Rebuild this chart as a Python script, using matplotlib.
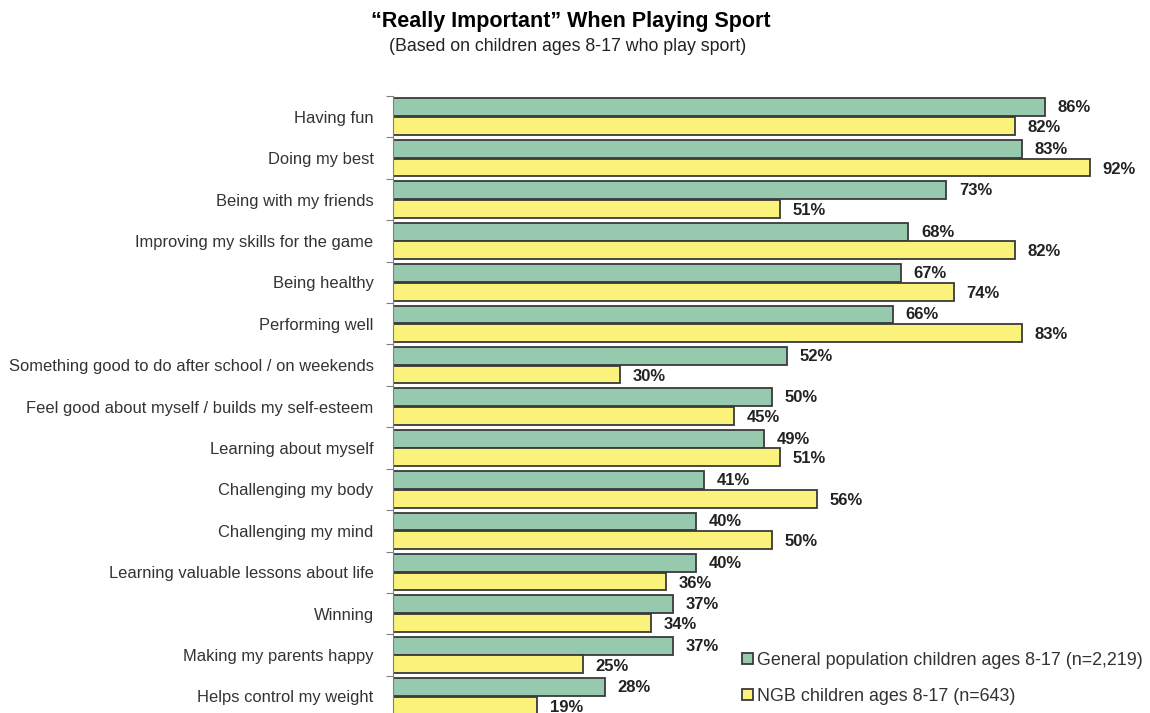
import matplotlib
matplotlib.use('Agg')
from matplotlib import pyplot as plt
import numpy as np

categories = [
    'Having fun',
    'Doing my best',
    'Being with my friends',
    'Improving my skills for the game',
    'Being healthy',
    'Performing well',
    'Something good to do after school / on weekends',
    'Feel good about myself / builds my self-esteem',
    'Learning about myself',
    'Challenging my body',
    'Challenging my mind',
    'Learning valuable lessons about life',
    'Winning',
    'Making my parents happy',
    'Helps control my weight',
]
general = [86, 83, 73, 68, 67, 66, 52, 50, 49, 41, 40, 40, 37, 37, 28]
ngb = [82, 92, 51, 82, 74, 83, 30, 45, 51, 56, 50, 36, 34, 25, 19]
series_names = ['General population children ages 8-17 (n=2,219)',
                'NGB children ages 8-17 (n=643)']

plt.rcParams['font.family'] = ['Liberation Sans', 'DejaVu Sans']

green = '#97C9AF'
yellow = '#FAF27A'
edge = '#3a3a3a'

fig = plt.figure(figsize=(11.5, 7.13), dpi=100)
ax = fig.add_axes([393 / 1150, 0, 758 / 1150, 1 - 96 / 713])

y = np.arange(len(categories))
h = 0.43
b1 = ax.barh(y - h / 2 - 0.01, general, height=h, color=green,
             edgecolor=edge, linewidth=1.3, label=series_names[0])
b2 = ax.barh(y + h / 2 + 0.01, ngb, height=h, color=yellow,
             edgecolor=edge, linewidth=1.3, label=series_names[1])

# value labels
for yy, v in zip(y, general):
    ax.annotate('%d%%' % v, (v, yy - h / 2), xytext=(9, 0),
                textcoords='offset points', va='center', ha='left',
                fontsize=12, fontweight='bold', color='#222222')
for yy, v in zip(y, ngb):
    ax.annotate('%d%%' % v, (v, yy + h / 2), xytext=(9, -1.5),
                textcoords='offset points', va='center', ha='left',
                fontsize=12, fontweight='bold', color='#222222')

ax.set_xlim(0, 100)
ax.set_ylim(14.4, -0.5)
ax.set_xticks([])
ax.set_yticks(np.arange(-0.5, 14.5, 1))
ax.set_yticklabels([])
ax.set_yticks(y, minor=True)
ax.set_yticklabels(categories, minor=True, fontsize=11.9, color='#333333')
ax.tick_params(axis='y', which='minor', length=0, pad=14)
ax.tick_params(axis='y', which='major', length=5, color='#808080')
for s in ['top', 'right', 'bottom']:
    ax.spines[s].set_visible(False)
ax.spines['left'].set_color('#808080')

leg = ax.legend(loc='lower right', bbox_to_anchor=(1.0, 0.0), frameon=False,
                fontsize=12.9, handlelength=0.6, handleheight=0.6,
                handletextpad=0.25, labelspacing=1.05, borderaxespad=0.05)
for t in leg.get_texts():
    t.set_color('#333333')

fig.text(0.496, 0.97, '\u201cReally Important\u201d When Playing Sport',
         ha='center', va='center', fontsize=15.5, fontweight='bold')
fig.text(0.494, 0.935, '(Based on children ages 8-17 who play sport)',
         ha='center', va='center', fontsize=12.8, color='#222222')

fig.savefig('out.png', dpi=100)
